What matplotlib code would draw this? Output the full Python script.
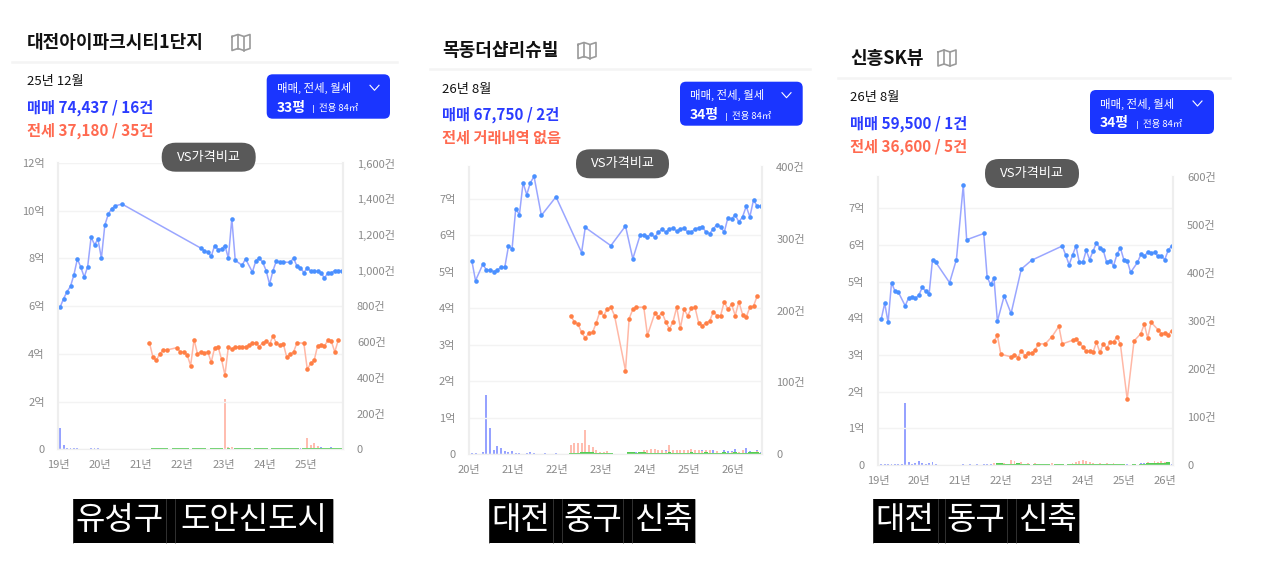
import matplotlib
matplotlib.use("Agg")
import matplotlib.pyplot as plt
from matplotlib.patches import FancyBboxPatch, Rectangle

plt.rcParams['font.family'] = ['Noto Sans CJK KR', 'DejaVu Sans']

W, H = 1277, 574

# chart 1: 대전아이파크시티1단지 (x = months since 19년 1월)
sale1_m = [0,1,2,3,4,5,6,7,8,9,10,11,12,13,14,15,16,18,41,42,43,44,45,46,47,48,49,50,51,53,54,56,57,58,59,60,61,62,63,64,65,67,68,69,70,71,72,73,74,75,76,77,78,79,80,81,82]
sale1_v = [5.97,6.32,6.61,6.83,7.32,7.98,7.63,7.22,7.66,8.89,8.58,8.80,8.01,9.40,9.85,10.09,10.2,10.28,8.43,8.33,8.26,8.09,8.54,8.37,8.41,8.54,8.01,9.67,7.92,7.71,7.98,7.43,7.90,8.02,7.84,7.49,6.92,7.49,7.90,7.84,7.84,7.84,8.01,7.67,7.61,7.40,7.61,7.46,7.46,7.46,7.39,7.18,7.39,7.40,7.49,7.49,7.49]
rent1_m = [26,27,28,29,30,31,34,35,36,37,38,39,40,41,42,43,44,45,46,47,48,49,50,51,52,53,54,55,56,57,58,59,60,61,62,63,64,65,66,67,68,69,71,72,73,74,75,76,77,78,79,80,81]
rent1_v = [4.47,3.87,3.73,4.0,4.16,4.16,4.26,4.08,4.08,3.95,3.51,4.6,4.0,4.09,4.03,4.09,3.65,4.26,4.30,3.77,3.11,4.30,4.2,4.30,4.30,4.30,4.30,4.36,4.44,4.47,4.30,4.47,4.53,4.40,4.75,4.44,4.37,4.43,3.86,3.98,4.08,4.47,4.44,3.35,3.61,3.73,4.34,4.39,4.33,4.57,4.53,4.08,4.57]
sale1_bar_m = [0,1,2,3,4,5,6,7,8,9,10,11,13,14,15,16,18,19,20,22,24,26,28,50,62,66,70,72,73,74,75,76,77,78,79,80,81,82]
sale1_bar_c = [121,25,8,8,8,8,4,3,3,6,6,6,3,3,3,3,3,3,3,3,3,3,3,8,5,5,6,8,12,22,18,12,6,6,15,5,8,4]
rent1_bar_m = [25,48,49,50,51,52,72,73,74,75,76,78,80]
rent1_bar_c = [4,282,15,15,10,6,65,26,37,16,8,6,5]
green1_m = [27,28,29,30,31,33,34,35,36,37,39,40,41,42,44,45,46,47,49,51,52,53,54,55,57,58,59,60,62,63,64,65,66,67,68,69,71,72,73,74,75,76,77,78,79,80,81,82]
green1_c = [8,8,8,8,8,8,8,8,8,8,8,8,8,8,8,8,8,8,8,8,8,8,8,8,8,8,8,8,8,8,8,8,8,8,8,8,8,8,8,8,8,8,8,8,8,8,8,8]

# chart 2: 목동더샵리슈빌 (x = months since 20년 1월)
sale2_m = [0,1,3,4,5,6,7,8,9,10,11,12,13,14,15,16,17,19,23,30,31,38,42,44,46,47,48,49,50,51,52,53,54,55,56,57,58,59,60,61,62,63,64,65,66,67,68,69,70,71,72,73,74,75,76,77,78,79]
sale2_v = [5.30,4.76,5.21,5.05,5.05,5.01,5.05,5.13,5.13,5.70,5.64,6.74,6.57,7.45,7.12,7.45,7.62,6.55,7.06,5.53,6.22,5.72,6.26,5.36,6.01,6.01,5.97,6.04,5.95,6.09,6.17,6.09,6.17,6.21,6.11,6.17,6.21,6.09,6.09,6.18,6.21,6.24,6.09,6.05,6.18,6.30,6.24,6.09,6.49,6.46,6.56,6.37,6.51,6.80,6.51,6.98,6.80,6.80]
rent2_m = [27,28,29,30,31,32,33,34,35,36,37,38,39,42,43,44,45,47,48,50,51,52,53,54,55,56,57,58,59,60,61,62,63,64,65,66,67,68,69,70,71,72,73,74,75,76,77,78]
rent2_v = [3.80,3.63,3.57,3.34,3.18,3.32,3.34,3.60,3.91,3.80,3.97,4.03,3.80,2.29,3.72,3.97,4.03,4.03,3.26,3.86,3.77,3.88,3.63,3.43,3.63,4.03,3.46,3.97,3.80,4.00,4.03,3.60,3.52,3.60,3.65,3.91,3.80,3.80,4.18,3.97,4.11,3.80,4.18,3.83,3.76,4.03,4.06,4.34]
sale2_bar_m = [0,1,3,4,5,6,7,8,9,10,11,12,13,15,16,17,20,23,45,46,47,48,49,50,51,52,53,54,55,56,57,58,59,60,61,62,63,64,65,66,67,68,69,70,71,72,73,74,75,76,77,78,79]
sale2_bar_c = [1,2,3,82,36,5,11,8,4,3,4,2,2,1,3,1,1,2,3,3,4,5,4,5,4,4,5,5,4,5,5,6,6,4,5,4,5,6,5,6,3,2,5,4,4,7,3,3,8,4,3,5,3]
rent2_bar_m = [27,28,29,30,31,32,33,34,35,36,37,47,48,49,50,51,52,53,54,55,56,57,58,59,60,61,62,63,64,65,67,69,71,73,74,77,78]
rent2_bar_c = [13,16,15,15,33,12,10,6,3,3,4,5,6,7,7,5,5,4,12,5,5,6,5,6,7,6,5,4,6,5,4,3,3,3,5,3,4]
green2_m = [27,28,29,30,31,32,33,34,35,36,37,38,43,44,45,46,47,48,49,50,51,52,53,54,55,56,57,58,59,60,61,62,63,64,65,66,67,68,69,70,71,72,73,74,75,76,77,78,79]
green2_c = [2,2,2,3,3,3,3,2,2,2,1,1,3,3,1,3,3,1,1,2,2,2,2,3,2,2,2,2,2,3,2,2,2,3,2,1,1,2,3,2,2,3,2,1,2,3,3,3,1]

# chart 3: 신흥SK뷰 (x = months since 19년 1월)
sale3_m = [0,1,2,3,4,5,7,8,9,10,11,12,13,14,15,16,20,22,24,25,30,31,32,33,34,36,38,41,44,53,54,55,56,57,58,59,60,61,62,63,64,65,66,67,68,69,70,71,72,73,75,76,77,78,79,80,81,82,83,84,85]
sale3_v = [3.98,4.41,3.89,4.97,4.74,4.71,4.34,4.55,4.58,4.54,4.63,4.84,4.74,4.66,5.60,5.52,4.97,5.60,7.62,6.14,6.31,5.12,4.92,5.09,3.92,4.61,4.13,5.34,5.58,5.97,5.72,5.46,5.72,5.97,5.52,5.52,5.85,5.60,5.83,6.05,5.92,5.85,5.52,5.57,5.43,5.74,5.92,5.60,5.57,5.25,5.52,5.74,5.69,5.80,5.77,5.80,5.69,5.69,5.60,5.85,5.97]
rent3_m = [33,34,35,38,39,40,41,42,43,44,45,46,48,50,52,53,56,57,58,59,60,61,62,63,64,65,66,67,68,69,70,72,74,76,77,78,79,81,82,83,84,85]
rent3_v = [3.38,3.53,3.02,2.95,3.01,2.93,3.12,2.98,3.05,3.05,3.13,3.30,3.30,3.50,3.78,3.30,3.40,3.44,3.33,3.22,3.10,3.10,3.07,3.35,3.07,3.30,3.18,3.35,3.35,3.50,3.30,1.79,3.38,3.58,3.84,3.46,3.89,3.69,3.58,3.61,3.55,3.66]
sale3_bar_m = [0,1,2,3,4,5,6,7,8,9,10,11,12,13,14,15,16,24,26,28,30,31,32,33,34,72,74,76,77,78,79,80,81,82,83,84,85]
sale3_bar_c = [2,2,2,3,2,2,2,130,6,3,4,8,4,3,4,6,3,2,2,2,2,2,2,2,2,2,3,4,5,3,5,6,4,4,6,4,3]
rent3_bar_m = [33,36,38,39,41,43,45,50,56,57,58,59,60,61,62,64,66,68,78,80,81,82,83,84]
rent3_bar_c = [5,5,10,8,6,5,5,4,5,6,8,10,8,6,4,5,5,5,6,8,7,8,6,5]
green3_m = [34,35,36,37,38,39,40,41,42,43,45,46,47,48,49,51,52,53,55,56,57,58,59,60,61,62,63,64,65,66,67,68,69,70,71,74,76,77,78,79,80,81,82,83,84]
green3_c = [4,4,3,3,3,3,4,3,3,3,3,3,3,3,3,3,3,3,3,3,3,3,3,3,3,3,3,3,3,3,3,3,3,3,3,2,3,3,4,4,4,5,5,5,6]

left_ticks1 = [0, 2, 4, 6, 8, 10, 12]
right_ticks1 = [0, 200, 400, 600, 800, 1000, 1200, 1400, 1600]
left_ticks2 = [0, 1, 2, 3, 4, 5, 6, 7]
right_ticks2 = [0, 100, 200, 300, 400]
right_ticks3 = [0, 100, 200, 300, 400, 500, 600]
years1 = ['19년', '20년', '21년', '22년', '23년', '24년', '25년']
years2 = ['20년', '21년', '22년', '23년', '24년', '25년', '26년']
years3 = ['19년', '20년', '21년', '22년', '23년', '24년', '25년', '26년']

C_SALE_LINE = '#9aa6ff'
C_SALE_DOT = '#4a90ff'
C_RENT_LINE = '#ffb8a6'
C_RENT_DOT = '#ff7f45'
C_SALE_BAR = '#96a2ff'
C_RENT_BAR = '#ffbdb0'
C_GREEN = '#55cc55'
C_LABEL = '#8a8a8a'
C_GRID = '#f3f3f3'

fig = plt.figure(figsize=(W / 100, H / 100), dpi=100, facecolor='white')


def chart(box, xlim, ymax, cmax, yticks, cticks, years, tick0, sale, rent, sbar, rbar, gbar):
    l, r, t, b = box
    ax = fig.add_axes([l / W, 1 - b / H, (r - l) / W, (b - t) / H])
    tw = ax.twinx()
    tw.bar(sbar[0], sbar[1], width=0.55, color=C_SALE_BAR, zorder=2)
    tw.bar(rbar[0], rbar[1], width=0.55, color=C_RENT_BAR, zorder=2)
    tw.bar(gbar[0], gbar[1], width=1.0, color=C_GREEN, zorder=3)
    ax.plot(sale[0], sale[1], color=C_SALE_LINE, lw=1.1, marker='o', ms=3.3, mfc=C_SALE_DOT, mec=C_SALE_DOT, mew=0)
    ax.plot(rent[0], rent[1], color=C_RENT_LINE, lw=1.1, marker='o', ms=3.3, mfc=C_RENT_DOT, mec=C_RENT_DOT, mew=0)
    ax.set_zorder(tw.get_zorder() + 1)
    ax.patch.set_visible(False)
    tw.patch.set_facecolor('white')

    ax.set_xlim(*xlim)
    ax.set_ylim(0, ymax)
    tw.set_ylim(0, cmax)
    ax.set_xticks([tick0 + 12 * i for i in range(len(years))])
    ax.set_xticklabels(years)
    ax.set_yticks(yticks)
    ax.set_yticklabels(['0' if v == 0 else f'{v}억' for v in yticks])
    tw.set_yticks(cticks)
    tw.set_yticklabels(['0' if v == 0 else f'{v:,}건' for v in cticks])
    ax.grid(axis='y', color=C_GRID, lw=1)
    ax.set_axisbelow(True)
    ax.tick_params(axis='x', length=0, pad=8, labelsize=8, labelcolor=C_LABEL)
    ax.tick_params(axis='y', length=0, pad=10, labelsize=8, labelcolor=C_LABEL)
    tw.tick_params(axis='y', length=0, pad=10, labelsize=8, labelcolor=C_LABEL)
    for a in (ax, tw):
        a.spines['top'].set_visible(False)
        a.spines['bottom'].set_color('#eeeeee')
        a.spines['left'].set_color('#eeeeee')
        a.spines['right'].set_color('#eeeeee')
        a.spines['left'].set_linewidth(1.5)
        a.spines['right'].set_linewidth(1.5)


chart((58.5, 343, 163, 449.3), (-0.5, 82.4), 12, 1600, left_ticks1, right_ticks1, years1, -0.4,
      (sale1_m, sale1_v), (rent1_m, rent1_v), (sale1_bar_m, sale1_bar_c), (rent1_bar_m, rent1_bar_c), (green1_m, green1_c))
chart((469.3, 762.3, 167, 454), (-0.65, 79.4), 7.88, 400, left_ticks2, right_ticks2, years2, -0.7,
      (sale2_m, sale2_v), (rent2_m, rent2_v), (sale2_bar_m, sale2_bar_c), (rent2_bar_m, rent2_bar_c), (green2_m, green2_c))
chart((878.3, 1173.3, 177, 465), (-0.5, 85.5), 7.85, 600, left_ticks2, right_ticks3, years3, -0.87,
      (sale3_m, sale3_v), (rent3_m, rent3_v), (sale3_bar_m, sale3_bar_c), (rent3_bar_m, rent3_bar_c), (green3_m, green3_c))

# everything that is not a chart goes on a pixel-sized overlay
ov = fig.add_axes([0, 0, 1, 1], zorder=20)
ov.set_xlim(0, W)
ov.set_ylim(H, 0)
ov.axis('off')


def label(x, y, s, size, color='#111111', weight='normal', ha='left'):
    ov.text(x, y, s, fontsize=size, color=color, fontweight=weight, ha=ha, va='center')


def rbox(x0, x1, y0, y1, rad, color):
    ov.add_patch(FancyBboxPatch((x0 + rad, y0 + rad), x1 - x0 - 2 * rad, y1 - y0 - 2 * rad,
                                boxstyle=f'round,pad={rad},rounding_size={rad}', fc=color, ec='none'))


def map_icon(x, y):
    xs = [x, x + 6, x + 12, x + 18, x + 18, x + 12, x + 6, x, x]
    ys = [y - 6, y - 8, y - 6, y - 8, y + 6, y + 8, y + 6, y + 8, y - 6]
    ov.plot(xs, ys, color='#9a9a9a', lw=1.2)
    ov.plot([x + 6, x + 6], [y - 8, y + 6], color='#9a9a9a', lw=1.2)
    ov.plot([x + 12, x + 12], [y - 6, y + 8], color='#9a9a9a', lw=1.2)


def panel(x, title, title_y, icon_x, rule, date, date_y, sale_txt, sale_y, rent_txt, rent_y,
          btn, pyeong, sub_x, chev_x, pill):
    label(x, title_y, title, 13, weight='bold')
    map_icon(icon_x, title_y)
    ov.plot(rule[:2], [rule[2], rule[2]], color='#f4f4f4', lw=1.8)
    label(x, date_y, date, 9.5)
    label(x, sale_y, sale_txt, 11, color='#2b3cff', weight='bold')
    label(x, rent_y, rent_txt, 11, color='#ff6a50', weight='bold')
    rbox(btn[0], btn[1], btn[2], btn[3], 6, '#1a35ff')
    label(btn[0] + 10, btn[2] + 13.5, '매매, 전세, 월세', 8.2, color='white', weight='medium')
    label(btn[0] + 10, btn[2] + 33.5, pyeong, 10, color='white', weight='bold')
    label(sub_x, btn[2] + 34.5, '전용 84㎡', 6.8, color='white', weight='medium')
    ov.plot([sub_x - 6, sub_x - 6], [btn[2] + 31, btn[2] + 38], color='#c8d0ff', lw=0.7)
    ov.plot([chev_x, chev_x + 4.5, chev_x + 9], [btn[2] + 11, btn[2] + 16, btn[2] + 11], color='white', lw=0.8)
    rbox(pill[0], pill[1], pill[2], pill[3], 14, '#595959')
    label((pill[0] + pill[1]) / 2, (pill[2] + pill[3]) / 2, 'VS가격비교', 9.5, color='white', ha='center')


panel(27, '대전아이파크시티1단지', 42.5, 232, (12, 397, 62), '25년 12월', 82,
      '매매 74,437 / 16건', 107.5, '전세 37,180 / 35건', 131,
      (266.7, 390, 74.3, 118.7), '33평', 319, 370, (161.7, 255.7, 142.7, 171.7))
panel(442, '목동더샵리슈빌', 50.5, 578, (430, 810, 69.3), '26년 8월', 90,
      '매매 67,750 / 2건', 115, '전세 거래내역 없음', 138,
      (680, 802.7, 81.7, 125.7), '34평', 732, 782, (576, 669, 149.3, 178.3))
panel(850, '신흥SK뷰', 58, 938, (838, 1230, 78), '26년 8월', 98,
      '매매 59,500 / 1건', 124, '전세 36,600 / 5건', 147,
      (1090, 1214, 90, 134), '34평', 1143, 1193, (985, 1079, 159, 188))


def badge(parts, y0, y1):
    ov.add_patch(Rectangle((parts[0][0], y0), parts[-1][1] - parts[0][0], y1 - y0, fc='black', ec='none'))
    for x0, x1, s in parts:
        ov.text((x0 + x1) / 2, (y0 + y1) / 2 - 1, s, fontsize=23, color='white', fontweight='medium', ha='center', va='center')
        ov.plot([x0, x0], [y0, y1], color='#555555', lw=0.4)
        ov.plot([x1, x1], [y0, y1], color='#555555', lw=0.4)


badge([(73, 166, '유성구'), (175, 333, '도안신도시')], 499, 543)
badge([(489, 553, '대전'), (562, 623, '중구'), (632, 695, '신축')], 499.3, 542.7)
badge([(873, 937.5, '대전'), (945, 1007, '동구'), (1016, 1078.7, '신축')], 499, 542.7)

fig.savefig('out.png', dpi=100, facecolor='white')
